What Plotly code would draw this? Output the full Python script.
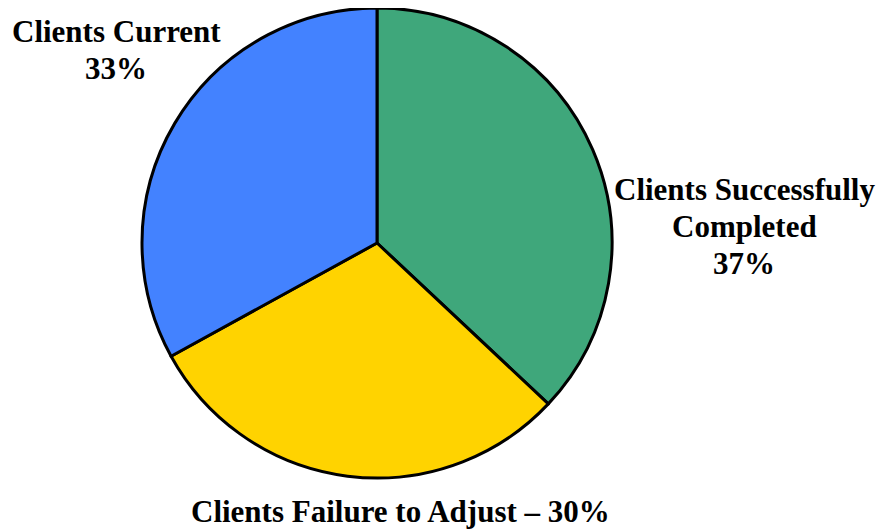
import plotly.graph_objects as go

# the page adds an 8px body margin, so the figure is drawn 8px in from the corner
OFF = 8
W, H = 884 - OFF, 529 - OFF

labels = ["Clients Successfully Completed", "Clients Failure to Adjust", "Clients Current"]
values = [37, 30, 33]
colors = ["#3FA77B", "#FFD300", "#4382FF"]

# label lines as laid out in the source image
label_lines = [
    ["Clients Successfully", "Completed", "37%"],
    ["Clients Failure to Adjust – 30%"],
    ["Clients Current", "33%"],
]
# screen pixel position of each label's first line, and line step
label_pos = [(744, 190), (400, 511), (116, 32)]
LINE_STEP = 36.5

cx, cy, r = 377 - OFF, 243 - OFF, 235

fig = go.Figure(go.Pie(
    labels=labels,
    values=values,
    sort=False,
    direction="clockwise",
    rotation=0,
    textinfo="none",
    hoverinfo="label+percent",
    marker=dict(colors=colors, line=dict(color="black", width=3)),
    domain=dict(x=[(cx - r) / W, (cx + r) / W],
                y=[max(0, 1 - (cy + r) / H), min(1, 1 - (cy - r) / H)]),
    showlegend=False,
))

for lines, (px, py) in zip(label_lines, label_pos):
    for i, line in enumerate(lines):
        fig.add_annotation(
            x=(px - OFF) / W, y=1 - (py + i * LINE_STEP - OFF) / H,
            xref="paper", yref="paper",
            text=f"<b>{line}</b>", showarrow=False,
            xanchor="center", yanchor="middle",
            font=dict(family="Liberation Serif, Times New Roman, serif", size=31, color="black"),
        )

fig.update_layout(
    width=W, height=H,
    margin=dict(l=0, r=0, t=0, b=0),
    paper_bgcolor="white",
    plot_bgcolor="white",
)

fig.write_html("out.html")
